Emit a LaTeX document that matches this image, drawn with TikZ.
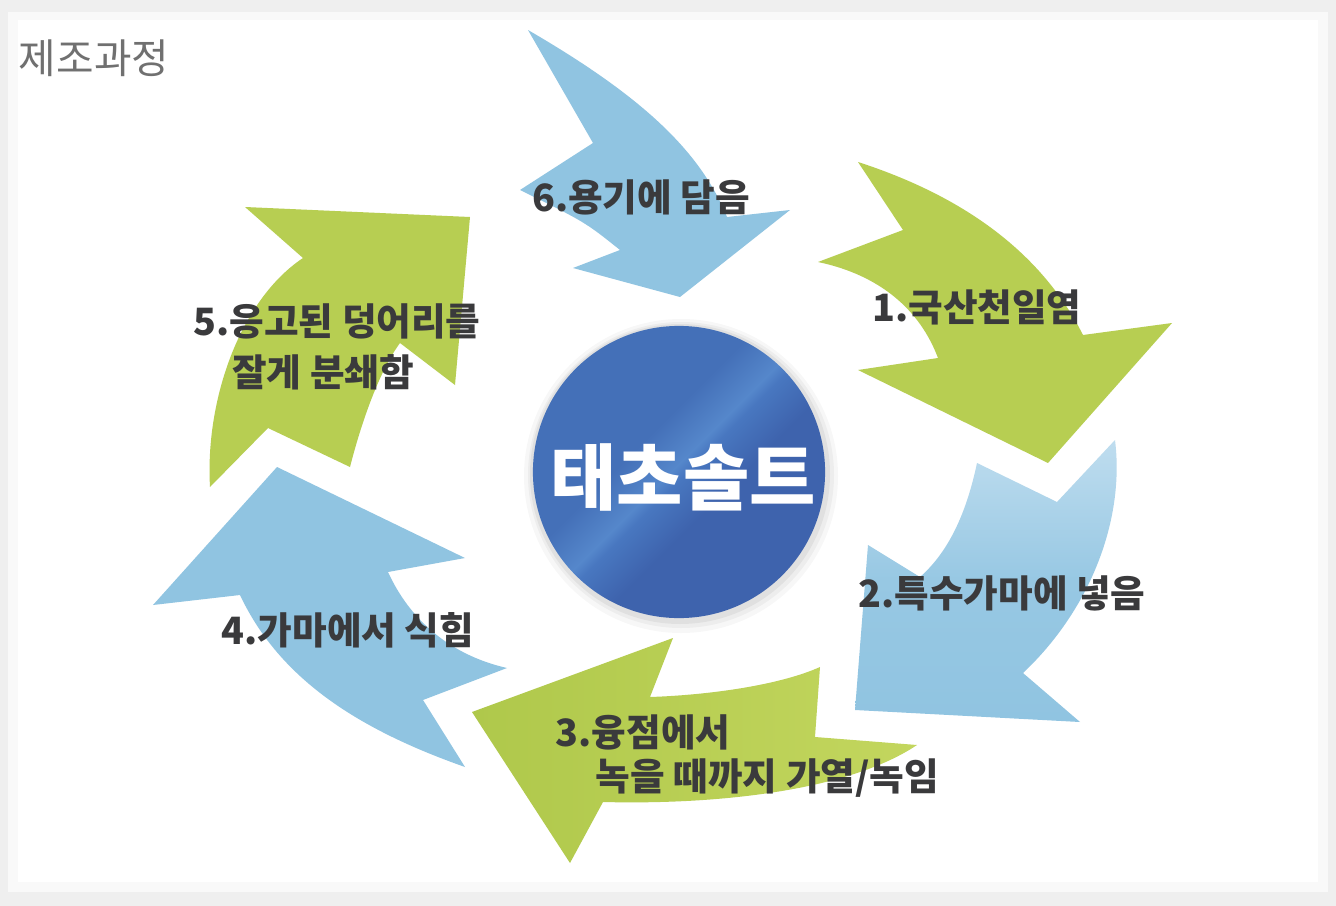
\documentclass[tikz,border=0pt]{standalone}
\usepackage{fontspec}
\newfontfamily\kr{Noto Sans CJK KR}
\definecolor{grn}{HTML}{B7CE52}
\definecolor{grnL}{HTML}{C3D65E}
\definecolor{grnD}{HTML}{AFC84B}
\definecolor{blu}{HTML}{90C4E1}
\definecolor{bluL}{HTML}{BFDDEF}
\definecolor{txt}{HTML}{3A3A3C}
\definecolor{ttl}{HTML}{707070}
\definecolor{bgray}{HTML}{EFEFEF}
\definecolor{hubA}{HTML}{4470B8}
\definecolor{hubL}{HTML}{5587CB}
\definecolor{hubM}{HTML}{4877C0}
\definecolor{hubB}{HTML}{3E63AD}
\pgfdeclarehorizontalshading{band}{100bp}{color(0bp)=(hubA); color(42bp)=(hubA); color(49bp)=(hubL); color(51bp)=(hubM); color(58bp)=(hubB); color(100bp)=(hubB)}
\begin{document}
\begin{tikzpicture}[x=0.01cm,y=-0.01cm,
  lbl/.style={font=\kr\bfseries\fontsize{10.7}{13}\selectfont, text=txt, inner sep=0pt},
  garrow/.style={fill=grn},
  barrow/.style={fill=blu}]
\useasboundingbox (0,0) rectangle (1336,906);
% background
\fill[bgray] (0,0) rectangle (1336,906);
\fill[white!60!bgray] (8,12) rectangle (1328,892);
\fill[white] (18,20) rectangle (1318,882);
% title
\node[font=\kr\fontsize{11.6}{14}\selectfont, text=ttl, inner sep=0pt] (title) at (94,58) {제조과정};
% arrow 6 (top, blue)
\path[barrow] (528,30) .. controls (640,95) and (700,150) .. (727,217) -- (790,210) -- (680,297) -- (573,268) -- (620,250) .. controls (585,222) .. (520,190) -- (593,143) -- cycle;
% arrow 1 (top right, green)
\path[garrow] (858,162) .. controls (960,195) and (1040,250) .. (1083,335) -- (1172,323) -- (1048,463) -- (858,370) -- (938,358) .. controls (920,310) and (880,275) .. (818,262) -- (903,230) -- cycle;
% arrow 2 (right, blue)
\shade[top color=bluL, bottom color=blu, middle color=blu!85!bluL] (1115,440) -- (1057,502) -- (977,463) .. controls (965,520) and (945,555) .. (920,577) -- (868,545) -- (855,710) -- (1080,722) -- (1023,673) .. controls (1090,610) and (1125,520) .. (1115,440) -- cycle;
% arrow 3 (bottom, green)
\shade[left color=grnD, right color=grnL] (820,667) -- (815,737) -- (917,745) .. controls (850,790) and (720,805) .. (603,802) -- (570,863) -- (472,712) -- (673,638) -- (650,697) .. controls (710,695) and (780,685) .. (820,667) -- cycle;
% arrow 4 (lower left, blue)
\path[barrow] (277,467) -- (465,558) -- (388,572) .. controls (410,620) and (450,655) .. (507,668) -- (423,700) -- (465,767) .. controls (360,730) and (280,680) .. (240,595) -- (153,605) -- cycle;
% arrow 5 (upper left, green)
\path[garrow] (470,217) -- (455,385) -- (400,343) .. controls (380,370) and (362,420) .. (350,467) -- (268,428) -- (210,487) .. controls (205,400) and (240,300) .. (303,258) -- (245,207) -- cycle;
% hub
\fill[black, opacity=0.03] (681,476) circle[radius=157];
\fill[black, opacity=0.04] (681,475) circle[radius=153];
\fill[black, opacity=0.05] (680,474) circle[radius=150];
\node[circle, minimum size=2.92cm, inner sep=0pt, shading=band, shading angle=-45] (hub) at (679,472) {};
\node[text=white, font=\kr\bfseries\fontsize{20.5}{24}\selectfont, inner sep=0pt] (hubtext) at (683,477) {태초솔트};
% labels
\node[lbl] (l6) at (641,197) {6.용기에 담음};
\node[lbl] (l1) at (977,307) {1.국산천일염};
\node[lbl] (l2) at (1002,593) {2.특수가마에 넣음};
\node[lbl, anchor=west] (l3a) at (555,732) {3.융점에서};
\node[lbl, anchor=west] (l3b) at (595,778) {녹을 때까지 가열/녹임};
\node[lbl] (l4) at (348,630) {4.가마에서 식힘};
\node[lbl] (l5a) at (337,321) {5.응고된 덩어리를};
\node[lbl] (l5b) at (323,372) {잘게 분쇄함};
\end{tikzpicture}
\end{document}
